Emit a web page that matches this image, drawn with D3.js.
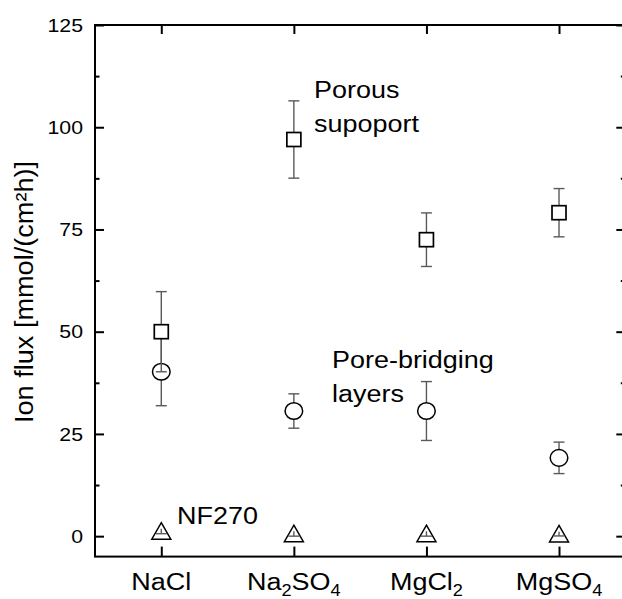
<!DOCTYPE html>
<html>
<head>
<meta charset="utf-8">
<script src="https://cdn.jsdelivr.net/npm/d3@7"></script>
<style>
  html, body { margin: 0; padding: 0; background: #fff; }
  svg { display: block; }
  text { font-family: "Liberation Sans", Arial, sans-serif; fill: #000; }
</style>
</head>
<body>
<svg id="chart" width="622" height="599"></svg>
<script>
// ---- data ----
const categories = [
  [{t: "NaCl"}],
  [{t: "Na"}, {t: "2", sub: true}, {t: "SO"}, {t: "4", sub: true}],
  [{t: "MgCl"}, {t: "2", sub: true}],
  [{t: "MgSO"}, {t: "4", sub: true}]
];
const porousValues = [50.0, 97.0, 72.5, 79.1];
const porousErr    = [9.8, 9.45, 6.55, 5.9];
const bridgingValues = [40.2, 30.6, 30.6, 19.15];
const bridgingErr    = [8.3, 4.2, 7.2, 3.85];
const nfValues = [1.2, 0.6, 0.6, 0.55];
const nfErr    = [0.6, 0.6, 0.6, 0.5];
const yMajorTicks = [0, 25, 50, 75, 100, 125];
const yMinorTicks = [12.5, 37.5, 62.5, 87.5, 112.5];
const yLabel = "Ion flux [mmol/(cm²h)]";
const annotations = [
  {lines: ["Porous", "supoport"], x: 314, y: 97.5},
  {lines: ["Pore-bridging", "layers"], x: 332, y: 368},
  {lines: ["NF270"], x: 177, y: 524}
];

// ---- layout ----
const svg = d3.select("#chart");
const L = 95, T = 25, R = 625.3, B = 556.6;
const x = d3.scaleLinear().domain([0.5, 4.5]).range([L, R]);
const y = d3.scaleLinear().domain([-5, 125]).range([B, T]);
const SX = 1.1;

svg.append("rect").attr("width", 622).attr("height", 599).attr("fill", "#fff");

const idx = categories.map((d, i) => i + 1);

// axes with inward ticks
const axisG = svg.append("g");
function styleAxis(g) {
  g.select(".domain").remove();
  g.selectAll("line").attr("stroke", "#000").attr("stroke-width", 2);
  g.selectAll("text").remove();
}
axisG.append("g").attr("transform", `translate(${L},0)`)
  .call(d3.axisRight(y).tickValues(yMajorTicks).tickSize(9)).call(styleAxis);
axisG.append("g").attr("transform", `translate(${L},0)`)
  .call(d3.axisRight(y).tickValues(yMinorTicks).tickSize(4.5)).call(styleAxis);
axisG.append("g").attr("transform", `translate(${R},0)`)
  .call(d3.axisLeft(y).tickValues(yMajorTicks).tickSize(9)).call(styleAxis);
axisG.append("g").attr("transform", `translate(${R},0)`)
  .call(d3.axisLeft(y).tickValues(yMinorTicks).tickSize(4.5)).call(styleAxis);
axisG.append("g").attr("transform", `translate(0,${B})`)
  .call(d3.axisTop(x).tickValues(idx).tickSize(10)).call(styleAxis);
axisG.append("g").attr("transform", `translate(0,${T})`)
  .call(d3.axisBottom(x).tickValues(idx).tickSize(9)).call(styleAxis);

// frame
svg.append("rect").attr("x", L).attr("y", T).attr("width", R - L).attr("height", B - T)
  .attr("fill", "none").attr("stroke", "#000").attr("stroke-width", 2);

// y tick labels
svg.append("g").selectAll("text").data(yMajorTicks).join("text")
  .attr("transform", d => `translate(83,${y(d) + 6.8}) scale(1.12,1)`)
  .attr("text-anchor", "end").attr("font-size", 19).text(d => d);

// x tick labels
const xl = svg.append("g").selectAll("text").data(categories).join("text")
  .attr("transform", (d, i) => `translate(${x(i + 1)},589.5) scale(${SX},1)`)
  .attr("text-anchor", "middle").attr("font-size", 24.5);
xl.each(function(parts) {
  const t = d3.select(this);
  let shifted = false;
  parts.forEach(p => {
    const ts = t.append("tspan").text(p.t);
    if (p.sub && !shifted) { ts.attr("dy", 6.5).attr("font-size", 16.5); shifted = true; }
    else if (p.sub) { ts.attr("font-size", 16.5); }
    else if (shifted) { ts.attr("dy", -6.5); shifted = false; }
  });
});

// y axis label
svg.append("text")
  .attr("transform", `translate(33.3,292) rotate(-90) scale(1.085,1)`)
  .attr("text-anchor", "middle").attr("font-size", 25).text(yLabel);

// error bars
const errColor = "#5a5a5a";
function errorBars(vals, errs, cw, lowerOnly) {
  const g = svg.append("g").attr("stroke", errColor).attr("stroke-width", 1.4);
  vals.forEach((v, i) => {
    const cx = x(i + 1);
    g.append("line").attr("x1", cx).attr("x2", cx)
      .attr("y1", y(v + errs[i])).attr("y2", y(v - errs[i]));
    if (!lowerOnly) g.append("line").attr("x1", cx - cw / 2).attr("x2", cx + cw / 2)
      .attr("y1", y(v + errs[i])).attr("y2", y(v + errs[i]));
    g.append("line").attr("x1", cx - cw / 2).attr("x2", cx + cw / 2)
      .attr("y1", y(v - errs[i])).attr("y2", y(v - errs[i]));
  });
}

// NF270 triangles (error bar on top)
svg.append("g").selectAll("path").data(nfValues).join("path")
  .attr("d", (v, i) => {
    const cx = x(i + 1), cy = y(v);
    return `M${cx},${cy - 8.5}L${cx + 9.5},${cy + 8}L${cx - 9.5},${cy + 8}Z`;
  })
  .attr("fill", "#fff").attr("stroke", "#000").attr("stroke-width", 1.5);
errorBars(nfValues, nfErr, 11, true);

// pore-bridging circles
errorBars(bridgingValues, bridgingErr, 11, false);
svg.append("g").selectAll("ellipse").data(bridgingValues).join("ellipse")
  .attr("cx", (v, i) => x(i + 1)).attr("cy", v => y(v))
  .attr("rx", 8.8).attr("ry", 8.3)
  .attr("fill", "#fff").attr("stroke", "#000").attr("stroke-width", 1.5);

// porous support squares
errorBars(porousValues, porousErr, 11, false);
svg.append("g").selectAll("rect").data(porousValues).join("rect")
  .attr("x", (v, i) => x(i + 1) - 7).attr("y", v => y(v) - 7)
  .attr("width", 14).attr("height", 14)
  .attr("fill", "#fff").attr("stroke", "#000").attr("stroke-width", 1.7);

// annotations
annotations.forEach(a => {
  a.lines.forEach((ln, k) => {
    svg.append("text")
      .attr("transform", `translate(${a.x},${a.y + k * 34}) scale(${SX},1)`)
      .attr("font-size", 24.5).text(ln);
  });
});
</script>
</body>
</html>
